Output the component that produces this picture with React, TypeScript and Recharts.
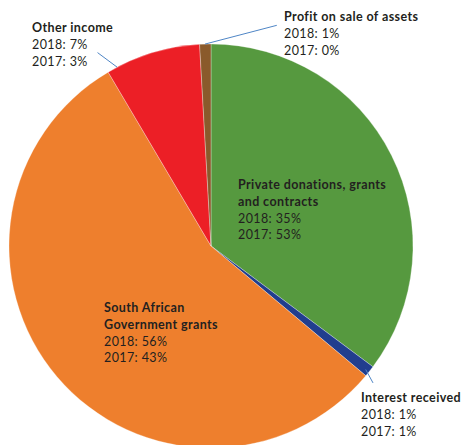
import React from "react";
import { PieChart, Pie, Cell } from "recharts";

const categories = [
  "Private donations, grants and contracts",
  "Interest received",
  "South African Government grants",
  "Other income",
  "Profit on sale of assets",
];
const shares = [35.2, 0.9, 55.4, 7.6, 0.9];
const label2018 = ["2018: 35%", "2018: 1%", "2018: 56%", "2018: 7%", "2018: 1%"];
const label2017 = ["2017: 53%", "2017: 1%", "2017: 43%", "2017: 3%", "2017: 0%"];
const titleLines = [
  ["Private donations, grants", "and contracts"],
  ["Interest received"],
  ["South African", "Government grants"],
  ["Other income"],
  ["Profit on sale of assets"],
];

const colors = ["#56993F", "#213E8E", "#EE7F2D", "#EC1F26", "#8A5A2B"];

const data = categories.map((name, i) => ({ name, value: shares[i] }));

// label anchor (page coords) and leader line in polar terms (deg clockwise from top, radius factor)
const labelPos = [
  { x: 238, y: 189 },
  { x: 361, y: 402 },
  { x: 104, y: 312 },
  { x: 32, y: 32 },
  { x: 284, y: 21 },
];
const leaders: (null | { a1: number; r1: number; a2: number; r2: number })[] = [
  null,
  { a1: 128.6, r1: 0.98, a2: 130.2, r2: 1.05 },
  null,
  { a1: -27.7, r1: 1.0, a2: -30.4, r2: 1.11 },
  { a1: -1.7, r1: 1.0, a2: 16.6, r2: 1.14 },
];

const FONT = "Lato, 'Open Sans', sans-serif";
const LS = 0.4;

const polar = (cx: number, cy: number, r: number, a: number) => {
  const rad = (a * Math.PI) / 180;
  return { x: cx + r * Math.sin(rad), y: cy - r * Math.cos(rad) };
};

const renderLabel = (props: any) => {
  const { index, cx, cy, outerRadius } = props;
  const pos = labelPos[index];
  const lines = titleLines[index];
  const ld = leaders[index];
  const lh = 16.8;
  let p1: any = null;
  let p2: any = null;
  if (ld) {
    p1 = polar(cx, cy, outerRadius * ld.r1, ld.a1);
    p2 = polar(cx, cy, outerRadius * ld.r2, ld.a2);
  }
  return (
    <g key={`lbl-${index}`}>
      {ld && (
        <line x1={p1.x} y1={p1.y} x2={p2.x} y2={p2.y} stroke="#4F86C6" strokeWidth={1} />
      )}
      {lines.map((t, k) => (
        <text
          key={k}
          x={pos.x}
          y={pos.y + k * lh}
          fontFamily={FONT}
          fontSize={12.5}
          fontWeight={700}
          letterSpacing={LS}
          fill="#231F20"
        >
          {t}
        </text>
      ))}
      <text x={pos.x} y={pos.y + lines.length * lh} fontFamily={FONT} fontSize={12.5} letterSpacing={LS} fill="#231F20">
        {label2018[index]}
      </text>
      <text x={pos.x} y={pos.y + (lines.length + 1) * lh} fontFamily={FONT} fontSize={12.5} letterSpacing={LS} fill="#231F20">
        {label2017[index]}
      </text>
    </g>
  );
};

export default function App() {
  return (
    <div style={{ position: "absolute", left: 0, top: 0, width: 464, height: 445, background: "#fff" }}>
      <PieChart width={464} height={445} margin={{ top: 0, right: 0, bottom: 0, left: 0 }}>
        <Pie
          data={data}
          dataKey="value"
          nameKey="name"
          cx={211}
          cy={246}
          outerRadius={202}
          innerRadius={0}
          startAngle={90}
          endAngle={-270}
          stroke="#ffffff"
          strokeWidth={0.3}
          label={renderLabel}
          labelLine={false}
          isAnimationActive={false}
        >
          {data.map((d, i) => (
            <Cell key={d.name} fill={colors[i]} />
          ))}
        </Pie>
      </PieChart>
    </div>
  );
}
